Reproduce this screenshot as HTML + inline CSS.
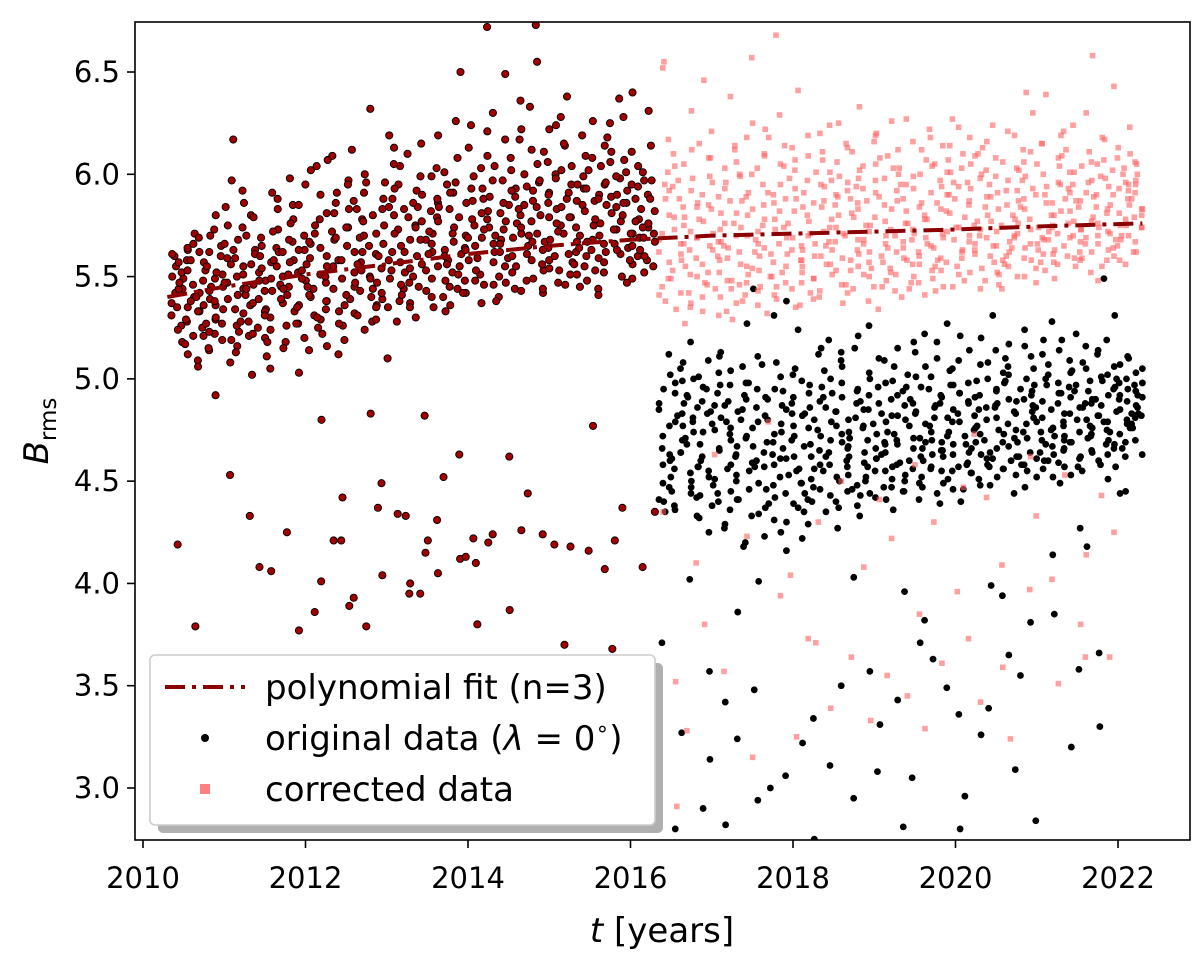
<!DOCTYPE html>
<html><head><meta charset="utf-8"><style>
html,body{margin:0;padding:0;background:#fff;}
svg{display:block;font-family:"DejaVu Sans","Liberation Sans",sans-serif;}
</style></head><body>
<svg id="chart" width="1200" height="956" viewBox="0 0 1200 956" xmlns="http://www.w3.org/2000/svg">
<g id="marks"></g>
<rect x="135" y="22" width="1055" height="818" fill="none" stroke="#000" stroke-width="1.6"/>
<g id="axes"></g>
<text x="662" y="942" font-size="34" text-anchor="middle"><tspan font-style="italic">t</tspan> [years]</text>
<text transform="translate(48,431) rotate(-90)" font-size="34" text-anchor="middle"><tspan font-style="italic">B</tspan><tspan font-size="23" dy="8">rms</tspan></text>
<g>
<rect x="158" y="663" width="505" height="170" rx="5" fill="#b0b0b0"/>
<rect x="150" y="655" width="505" height="170" rx="5" fill="#fff" stroke="#ccc" stroke-width="1.6"/>
<line x1="165" y1="687" x2="245" y2="687" stroke="#8b0000" stroke-width="4" stroke-dasharray="20 7 4 7"/>
<text x="265" y="699" font-size="34">polynomial fit (n=3)</text>
<circle cx="205" cy="738" r="4" fill="#000"/>
<text x="265" y="750" font-size="34">original data (<tspan font-style="italic">λ</tspan> = 0<tspan font-size="22" dy="-14">∘</tspan><tspan dy="14">)</tspan></text>
<rect x="200" y="784" width="10" height="10" fill="#ff8080"/>
<text x="265" y="801" font-size="34">corrected data</text>
</g>
</svg>
<script>
const xTicks=[2010,2012,2014,2016,2018,2020,2022];
const yTicks=[3.0,3.5,4.0,4.5,5.0,5.5,6.0,6.5];
const earlyStart=2010.35, earlyEnd=2016.3, lateStart=2016.35, lateEnd=2022.3;
const obsOffsets=[0.04,-0.07,0.02,0.08,-0.03,-0.08,0.05,0.01,-0.05,0.06,-0.02,0.03,-0.06,0.00,0.07,-0.04,0.02,-0.07,0.05,-0.01,0.04,-0.05,0.06];
const earlyValues=[5.42,5.31,5.55,5.18,5.60,5.37,5.49,5.26,4.19,5.63,5.44,5.12,5.52,5.35,5.71,5.28,5.46,5.58,5.09,5.40,
5.33,5.66,5.21,5.48,3.79,5.57,5.39,5.25,5.62,5.45,5.14,5.53,5.36,5.70,5.29,5.43,4.92,5.51,5.22,5.60,
5.38,5.84,5.27,5.47,5.65,5.19,5.56,5.34,5.97,5.41,4.53,5.59,5.23,5.50,6.17,5.32,5.68,5.44,5.16,5.55,
5.36,5.74,5.28,5.92,5.46,4.33,5.63,5.21,5.52,5.39,5.80,4.08,5.48,5.25,5.61,5.11,5.43,5.69,4.06,5.34,
5.57,5.20,5.49,5.73,5.30,5.64,5.05,5.45,5.88,5.37,5.55,4.25,5.26,5.62,5.41,5.78,5.18,5.50,5.33,5.67,
5.45,5.03,5.58,5.36,5.85,3.77,5.48,5.27,5.70,5.52,5.14,5.95,5.40,5.63,3.86,5.31,5.56,5.75,4.01,5.44,
5.66,5.22,5.51,6.04,5.38,4.80,5.60,5.29,5.81,4.21,5.47,5.72,5.34,5.91,5.55,5.12,6.09,4.42,5.49,5.68,
5.26,5.83,4.21,5.58,5.39,5.74,5.19,5.62,3.89,5.45,5.97,5.32,5.53,3.93,5.69,5.87,5.24,5.57,3.79,5.43,
6.32,5.50,5.78,4.83,5.36,5.65,5.96,4.37,5.61,5.28,5.83,5.47,4.04,5.71,5.39,6.19,5.54,5.10,4.49,5.88,
5.58,6.13,5.35,5.73,4.34,5.49,5.95,5.62,5.28,5.80,4.33,5.44,6.04,5.68,5.52,4.00,5.83,5.37,5.60,3.95,
5.75,5.47,3.95,5.92,5.56,5.30,5.68,4.15,5.84,5.43,5.62,4.82,5.77,5.35,5.99,4.21,5.55,5.71,4.05,5.49,
5.86,5.63,4.31,5.40,5.79,5.58,6.01,5.45,4.52,5.67,5.91,5.33,5.74,4.12,5.52,5.83,5.61,4.63,5.96,5.42,
6.50,5.70,5.55,4.13,5.87,5.64,6.24,5.48,4.10,5.78,5.59,5.93,5.37,6.03,4.22,5.69,5.82,5.51,3.80,5.74,
6.72,5.88,5.46,4.20,5.66,6.09,5.57,5.81,4.24,5.40,5.97,5.73,5.62,6.49,5.50,4.62,5.85,5.68,3.87,5.93,
5.59,6.17,5.76,5.44,6.02,5.71,5.55,4.26,5.89,6.22,5.65,5.80,5.48,6.36,5.77,4.44,5.92,5.61,6.55,5.84,
5.70,6.05,5.53,6.73,5.87,5.67,4.24,5.96,5.58,6.11,5.79,5.42,5.91,6.24,5.64,4.19,5.86,5.53,6.00,5.75,
5.60,6.14,3.70,5.83,5.46,5.95,5.71,6.28,5.57,4.18,5.88,5.67,6.04,5.51,5.79,3.60,5.93,5.62,6.19,5.74,
5.48,5.99,4.16,5.85,5.68,6.08,5.55,4.77,5.90,5.63,6.02,5.76,5.44,5.87,4.07,5.70,6.14,5.59,5.95,5.81,
5.52,6.25,5.66,4.21,5.89,5.73,6.06,5.61,5.98,3.68,5.77,5.47,6.37,5.84,5.64,6.01,4.37,5.71,5.92,5.56,
5.86,6.40,5.69,6.11,5.60,5.95,4.08,5.78,5.52,6.04,5.74,5.90,5.63,6.31,5.82,5.58,5.97,4.35,5.71,5.88];
const earlyValues2=[5.35,5.50,5.24,5.61,5.44,5.29,5.57,5.17,5.47,5.38,5.64,5.21,5.53,5.33,5.06,5.58,5.42,5.27,5.69,5.40,
5.15,5.55,5.36,5.73,5.23,5.49,5.62,5.30,5.45,5.80,5.19,5.52,5.39,5.66,5.08,5.47,5.59,5.34,5.75,5.26,
5.51,5.13,5.63,5.41,5.86,5.28,5.56,5.44,5.02,5.70,5.37,5.60,5.22,5.48,5.79,5.33,5.65,5.18,5.54,5.43,
5.91,5.31,5.58,5.46,5.72,5.24,5.62,5.39,5.83,5.51,5.15,5.68,5.44,5.98,5.35,5.57,5.27,5.76,5.49,5.63,
5.20,5.85,5.41,5.67,5.53,6.02,5.30,5.59,5.45,5.78,5.25,5.71,5.50,5.90,5.38,5.64,5.16,5.81,5.55,5.44,
6.07,5.33,5.69,5.58,5.86,5.41,5.74,5.27,5.95,5.52,5.65,5.36,5.83,5.47,6.12,5.62,5.31,5.77,5.56,5.91,
5.40,5.70,5.49,6.00,5.35,5.80,5.60,5.44,5.88,5.66,5.29,5.96,5.53,5.75,5.42,6.05,5.62,5.84,5.38,5.71,
5.57,5.93,5.46,5.79,5.65,6.10,5.41,5.86,5.54,5.74,5.35,5.99,5.68,5.50,5.90,5.61,6.15,5.45,5.82,5.72,
5.53,6.03,5.40,5.88,5.66,5.77,5.48,6.19,5.60,5.84,5.36,5.95,5.71,5.56,6.08,5.44,5.91,5.79,5.63,5.51,
6.26,5.69,5.86,5.42,5.99,5.58,5.75,6.13,5.48,5.93,5.65,5.81,5.53,6.21,5.73,5.89,5.46,6.04,5.62,5.78,
5.38,5.97,5.70,6.30,5.55,5.86,5.66,6.08,5.47,5.92,5.77,5.60,6.17,5.52,5.83,5.69,6.00,5.43,5.94,5.74,
5.58,6.12,5.85,5.49,5.97,5.67,6.33,5.56,5.80,5.71,6.06,5.44,5.90,5.63,6.22,5.76,5.54,5.98,5.68,5.84,
5.47,6.15,5.72,5.91,5.61,6.02,5.51,5.87,5.79,6.38,5.64,5.95,5.56,5.82,5.70,6.09,5.45,5.93,5.75,5.60,
6.26,5.67,5.88,5.53,6.04,5.78,5.62,5.96,5.41,6.18,5.73,5.85,5.57,5.99,5.66,6.11,5.50,5.90,5.80,5.63,
6.28,5.71,5.86,5.58,6.07,5.77,5.65,5.94,5.49,6.01,5.74,5.88,5.60,6.14,5.69,5.83,5.55,5.97,5.76,5.67];
const lateOriginal=[4.72,4.41,4.95,4.63,3.71,4.88,4.52,5.12,4.35,4.79,4.60,4.98,4.47,2.80,4.83,4.56,5.05,4.38,4.71,3.27,
4.92,4.64,4.44,5.18,4.77,4.50,4.86,4.02,4.68,5.01,4.42,4.81,2.90,4.57,4.96,4.33,4.74,3.14,4.62,5.09,
4.89,4.48,3.57,4.75,4.55,5.03,4.40,4.84,4.66,3.42,4.93,4.51,4.79,4.27,5.13,4.70,2.82,4.58,4.87,4.45,
3.86,4.97,4.63,4.36,4.80,3.24,5.06,4.53,4.72,4.90,4.41,5.27,4.67,4.20,4.85,3.48,4.59,4.98,4.34,5.44,
4.01,4.76,4.49,4.91,2.94,4.64,5.11,4.39,4.82,3.00,4.57,4.73,5.31,4.46,4.95,4.25,4.69,2.72,4.87,4.52,
5.08,4.30,4.78,5.38,4.61,4.16,4.91,4.44,4.70,3.06,4.55,5.02,4.37,4.83,4.22,4.99,4.62,3.22,4.76,4.49,
5.24,4.86,4.41,4.67,2.75,4.93,4.56,4.29,4.80,5.15,3.34,4.65,4.47,5.04,4.72,4.35,4.89,3.11,4.58,4.96,
4.43,4.77,5.19,4.62,4.27,4.84,2.70,4.69,4.52,5.06,4.40,4.91,4.74,3.50,4.57,5.13,4.46,4.80,4.03,4.66,
4.95,4.38,4.71,5.21,4.59,4.88,2.95,4.50,4.77,4.33,5.00,4.64,3.57,4.85,4.44,4.73,5.26,4.55,4.92,3.31,
4.61,4.83,4.42,4.98,4.68,3.08,4.79,4.51,5.09,4.63,4.36,4.90,4.74,3.43,4.57,5.15,4.47,4.82,3.96,4.70,
4.94,4.58,5.02,4.45,4.77,2.81,4.66,4.88,4.53,5.18,4.71,3.05,4.60,4.96,4.41,4.83,4.69,3.71,5.06,4.49,
4.78,4.63,5.22,4.56,3.82,4.87,4.70,4.44,5.01,4.65,4.92,3.63,4.55,4.81,4.39,5.10,4.74,3.49,4.62,4.97,
4.51,4.85,5.27,4.68,2.80,4.79,4.57,5.05,4.46,4.93,4.72,3.36,4.64,4.88,4.40,5.14,4.76,4.59,2.96,4.99,
4.82,4.54,5.20,4.69,3.26,4.91,4.63,5.08,4.48,4.86,4.73,3.99,4.58,5.31,4.80,4.66,4.94,3.39,4.52,5.03,
4.87,4.61,4.98,3.94,4.75,5.17,4.56,4.90,4.69,3.65,4.83,5.06,4.44,4.78,4.62,3.09,4.95,4.71,5.24,4.58,
4.89,4.47,5.11,4.74,3.55,4.84,4.64,5.00,4.52,4.92,4.79,3.81,4.61,5.19,4.86,4.70,2.84,4.97,4.56,5.07,
4.81,4.67,5.28,4.60,4.14,4.93,4.75,5.02,4.49,4.88,3.85,4.72,5.14,4.57,4.98,4.83,3.20,4.65,5.09,4.77,
4.94,4.53,5.22,4.69,4.27,4.86,5.04,4.62,4.80,3.58,4.97,4.71,5.16,4.55,4.90,4.18,4.76,5.05,4.64,3.66,
4.88,5.12,4.73,4.99,4.60,5.49,4.82,4.51,5.02,3.30,4.92,4.68,5.19,4.79,4.57,4.95,4.74,4.44,5.31,4.85,
4.66,5.07,4.80,4.98,4.62,4.90,4.76,5.00,4.83,4.45,4.94,4.70,5.11,4.87,4.63,4.97,4.78,5.05,4.82,4.92];
const lateOriginal2=[4.66,4.85,4.49,5.02,4.58,4.77,4.40,4.93,4.61,4.82,4.45,4.99,4.70,4.36,4.88,4.54,5.08,4.64,4.79,4.47,
4.91,4.57,4.74,4.32,5.00,4.68,4.83,4.43,4.95,4.60,4.78,4.25,4.87,4.52,5.11,4.65,4.38,4.81,4.56,4.97,
4.44,4.73,4.89,4.29,4.62,5.04,4.50,4.76,4.41,4.92,4.67,4.18,4.84,4.55,4.98,4.33,4.71,4.60,4.86,4.46,
4.79,4.23,4.95,4.57,4.69,4.37,5.07,4.63,4.80,4.48,4.90,4.31,4.74,4.58,5.01,4.42,4.85,4.66,4.53,4.94,
4.39,4.77,4.61,5.05,4.49,4.72,4.88,4.35,4.82,4.56,4.97,4.44,4.68,4.83,4.51,5.12,4.62,4.75,4.40,4.91,
4.58,4.86,4.46,5.00,4.70,4.55,4.93,4.37,4.79,4.64,5.09,4.50,4.84,4.60,4.73,4.45,4.98,4.67,4.81,4.53,
5.15,4.62,4.89,4.48,4.76,4.94,4.57,4.70,4.43,5.03,4.66,4.85,4.52,4.96,4.61,4.78,4.47,5.10,4.69,4.88,
4.55,4.99,4.64,4.82,4.41,4.92,4.73,4.59,5.06,4.50,4.87,4.68,4.96,4.56,4.80,4.45,5.13,4.71,4.90,4.62,
4.84,4.52,5.01,4.66,4.77,4.47,4.95,4.60,4.86,4.74,5.18,4.57,4.91,4.69,4.81,4.49,5.04,4.65,4.88,4.55,
4.97,4.72,4.83,4.46,5.09,4.63,4.93,4.58,4.79,4.68,5.21,4.54,4.89,4.75,4.98,4.51,4.85,4.66,5.07,4.61,
4.92,4.77,4.57,5.00,4.70,4.86,4.48,5.14,4.64,4.81,4.73,4.95,4.56,4.88,4.67,5.10,4.60,4.99,4.75,4.53,
5.02,4.69,4.90,4.62,4.84,4.78,5.16,4.58,4.94,4.71,4.87,4.55,5.05,4.74,4.81,4.64,4.97,4.68,5.12,4.60,
4.89,4.76,4.52,5.00,4.72,4.93,4.63,4.85,4.79,5.19,4.59,4.96,4.70,4.83,4.66,5.03,4.57,4.91,4.80,4.69,
5.08,4.74,4.88,4.61,4.99,4.77,4.86,4.65,5.14,4.72,4.94,4.58,4.82,4.90,4.68,5.01,4.75,4.87,4.63,4.96,
4.79,5.06,4.70,4.92,4.84,4.66,5.00,4.78,4.89,4.73,5.10,4.81,4.95,4.69,4.86,5.03,4.76,4.91,4.83,4.98];
const lateCorrected=[5.68,5.95,6.52,5.41,5.80,6.55,5.57,4.35,5.92,5.34,6.17,5.73,5.49,5.88,3.52,5.61,6.04,5.27,5.79,2.91,
5.55,6.31,5.66,5.42,5.98,5.72,3.28,5.50,6.12,5.84,5.37,5.69,6.46,5.59,5.90,4.10,5.46,5.77,6.08,5.33,
5.63,5.96,3.80,5.71,5.52,6.21,5.85,5.40,5.67,4.63,5.93,5.58,6.03,5.31,5.76,5.48,3.57,5.87,5.65,6.14,
5.44,5.81,6.38,5.56,5.99,5.29,5.74,4.23,5.62,6.06,5.51,5.89,5.38,3.15,5.70,6.25,5.47,5.83,5.60,6.00,
5.36,6.57,5.75,5.53,6.10,5.66,4.79,5.91,5.45,6.18,5.78,5.32,5.64,6.68,5.86,5.50,3.94,5.73,6.05,5.41,
5.95,5.61,6.29,5.47,5.82,4.04,5.69,6.13,5.55,5.88,5.35,5.76,3.25,5.63,6.02,5.44,5.91,5.58,6.41,5.70,
5.84,3.73,5.52,6.09,5.66,5.97,5.39,5.80,4.30,5.60,6.20,5.49,5.87,5.72,3.71,5.94,5.56,6.07,5.43,5.78,
6.24,5.65,5.90,3.39,5.53,6.01,5.74,5.37,5.85,4.50,5.67,6.15,5.59,5.96,5.46,5.81,3.64,5.71,6.11,5.55,
5.88,5.42,6.33,5.63,5.79,4.08,5.98,5.51,5.86,5.68,3.33,6.04,5.57,5.93,5.45,5.75,6.19,5.62,4.41,5.89,
5.54,6.08,5.70,5.34,5.97,3.55,5.77,5.60,6.26,5.48,5.83,5.66,4.22,6.00,5.52,5.92,5.73,5.40,6.12,5.64,
5.87,3.45,5.58,6.03,5.76,5.50,5.95,5.67,4.58,6.16,5.44,5.84,5.71,3.85,5.99,5.56,6.07,5.62,5.80,5.47,
6.22,5.69,5.91,3.29,5.55,6.05,5.78,5.43,5.94,4.30,5.65,6.14,5.59,5.86,5.72,3.61,6.01,5.53,5.90,5.68,
5.82,6.27,5.57,3.96,5.96,5.74,5.45,6.10,5.63,5.88,4.47,5.70,6.03,5.51,5.93,3.73,5.79,5.61,6.18,5.66,
5.85,6.09,5.54,4.73,5.98,5.75,5.48,6.00,5.69,3.42,5.89,5.60,6.13,5.77,5.52,5.95,4.42,5.83,5.65,6.24,
5.58,5.91,3.59,5.72,6.06,5.67,5.44,5.97,4.09,5.80,5.62,6.19,5.55,5.87,5.76,3.24,6.02,5.64,5.92,5.70,
6.40,5.59,5.84,4.62,5.99,5.73,5.50,6.11,5.66,3.97,5.90,5.78,5.57,6.05,5.69,4.33,5.86,6.39,5.63,5.94,
5.75,5.53,6.15,5.80,4.02,5.68,5.96,5.61,6.08,5.74,3.51,5.88,5.56,6.21,5.71,5.93,4.53,5.82,5.65,6.01,
5.77,6.12,5.59,3.80,5.95,5.69,6.04,5.62,5.87,4.14,5.73,6.30,5.58,5.91,5.79,3.64,6.06,5.66,5.84,6.58,
5.70,5.97,5.55,4.43,5.89,6.18,5.63,5.99,5.76,3.64,5.83,6.07,5.60,5.94,4.25,5.72,6.43,5.68,5.90,5.81,
5.64,6.03,5.75,5.96,5.58,6.23,5.85,5.70,6.10,5.62,5.92,5.78,6.00,5.67,5.88,5.74,6.05,5.83,5.95,5.80];
const lateCorrected2=[5.62,5.88,5.45,6.01,5.71,5.53,5.94,5.38,5.79,5.66,6.10,5.49,5.84,5.58,5.97,5.42,5.75,5.63,6.05,5.51,
5.86,5.35,5.69,5.92,5.56,6.15,5.47,5.78,5.65,5.99,5.40,5.83,5.60,6.08,5.52,5.73,5.89,5.44,5.96,5.67,
5.33,5.81,5.59,6.12,5.48,5.76,5.64,6.00,5.37,5.87,5.70,5.55,6.18,5.46,5.91,5.62,5.80,5.41,6.03,5.68,
5.54,5.95,5.43,5.85,5.72,6.09,5.50,5.78,5.61,6.22,5.39,5.90,5.66,5.57,6.04,5.74,5.45,5.88,5.63,6.14,
5.52,5.82,5.69,5.98,5.36,5.93,5.58,6.07,5.47,5.77,5.65,6.19,5.55,5.86,5.42,6.01,5.71,5.60,5.95,5.49,
6.11,5.67,5.84,5.40,5.97,5.74,5.56,6.06,5.51,5.89,5.63,6.25,5.46,5.80,5.70,5.99,5.58,5.92,5.44,6.13,
5.68,5.83,5.53,6.02,5.75,5.61,5.94,5.38,5.87,5.66,6.16,5.50,5.79,5.72,6.05,5.57,5.91,5.45,6.20,5.64,
5.85,5.54,5.98,5.70,5.43,6.09,5.62,5.88,5.51,6.03,5.76,5.59,5.95,5.47,6.27,5.68,5.82,5.56,6.00,5.73,
5.60,5.93,5.41,6.12,5.66,5.86,5.53,6.04,5.78,5.64,5.97,5.49,6.18,5.71,5.83,5.58,6.07,5.45,5.90,5.69,
6.14,5.55,5.81,5.74,6.01,5.62,5.94,5.48,6.23,5.67,5.87,5.59,6.05,5.77,5.52,5.96,5.70,6.10,5.63,5.84,
5.44,6.02,5.73,5.89,5.57,6.16,5.65,5.80,5.51,5.99,5.75,6.08,5.60,5.92,5.46,6.21,5.69,5.85,5.56,6.03,
5.78,5.64,5.97,5.50,6.12,5.71,5.88,5.58,6.06,5.66,5.83,5.47,6.30,5.74,5.93,5.61,6.00,5.54,5.90,5.80,
5.68,6.15,5.57,5.86,5.72,6.04,5.63,5.95,5.49,6.19,5.76,5.82,5.60,6.09,5.70,5.91,5.55,6.01,5.67,5.87,
6.24,5.59,5.96,5.73,5.84,5.52,6.11,5.69,5.90,5.62,6.05,5.77,5.48,5.98,5.66,6.17,5.74,5.85,5.58,6.02,
5.81,5.65,6.08,5.71,5.93,5.56,6.13,5.68,5.88,5.75,6.00,5.62,5.95,5.79,5.70,6.06,5.83,5.91,5.74,5.97];
const fitTimes=[2010.3,2011,2012,2013,2014,2015,2016,2017,2018,2019,2020,2021,2022.3];
const fitValues=[5.40,5.45,5.51,5.56,5.61,5.65,5.68,5.70,5.71,5.72,5.73,5.745,5.76];

const NS='http://www.w3.org/2000/svg';
function xs(t){return 143+(t-2010)*81.25;}
function ys(v){return 788-(v-3)*204.57;}
function mk(tag,attrs,parent){const e=document.createElementNS(NS,tag);for(const k in attrs)e.setAttribute(k,attrs[k]);parent.appendChild(e);return e;}
function timeAt(arr,i,start,end,k){
  const t=start+(end-start)*(i+0.5)/arr.length+obsOffsets[(i+k)%obsOffsets.length];
  return Math.min(end,Math.max(start,t));
}
const marks=document.getElementById('marks');
const axes=document.getElementById('axes');
const clip=mk('clipPath',{id:'pc'},marks);
mk('rect',{x:135,y:22,width:1055,height:818},clip);
const g=mk('g',{'clip-path':'url(#pc)'},marks);

const gLate=mk('g',{},g);


[[lateOriginal,0],[lateOriginal2,11]].forEach(([arr,k])=>arr.forEach((v,i)=>{
  const c=mk('circle',{cx:xs(timeAt(arr,i,lateStart,lateEnd,k)),cy:ys(v),r:3.4,fill:'#000'},gLate);
  
  
}));
const gCorr=mk('g',{},g);


[[lateCorrected,5],[lateCorrected2,17]].forEach(([arr,k])=>arr.forEach((v,i)=>{
  const r=mk('rect',{x:xs(timeAt(arr,i,lateStart,lateEnd,k))-2.8,y:ys(v)-2.8,width:5.6,height:5.6,fill:'#ff6060','fill-opacity':0.6},gCorr);
  
  
}));
const gEarly=mk('g',{},g);


[[earlyValues,0],[earlyValues2,9]].forEach(([arr,k])=>arr.forEach((v,i)=>{
  const c=mk('circle',{cx:xs(timeAt(arr,i,earlyStart,earlyEnd,k)),cy:ys(v),r:3.6,fill:'#a00000',stroke:'#000','stroke-width':0.9},gEarly);
  
  
}));
const fit=mk('polyline',{points:fitTimes.map((t,i)=>xs(t)+','+ys(fitValues[i])).join(' '),fill:'none',stroke:'#8b0000','stroke-width':4,'stroke-dasharray':'20 7 4 7'},g);



xTicks.forEach(t=>{
  const l=mk('line',{x1:xs(t),x2:xs(t),y1:840,y2:848,stroke:'#000','stroke-width':1.6},axes);
  
  
  const tx=mk('text',{x:xs(t),y:888,'font-size':29,'text-anchor':'middle'},axes);
  tx.textContent=String(t);
  
  
});
yTicks.forEach(v=>{
  const l=mk('line',{x1:127,x2:135,y1:ys(v),y2:ys(v),stroke:'#000','stroke-width':1.6},axes);
  
  
  const tx=mk('text',{x:120,y:ys(v)+10,'font-size':29,'text-anchor':'end'},axes);
  tx.textContent=v.toFixed(1);
  
  
});
</script>
</body></html>
